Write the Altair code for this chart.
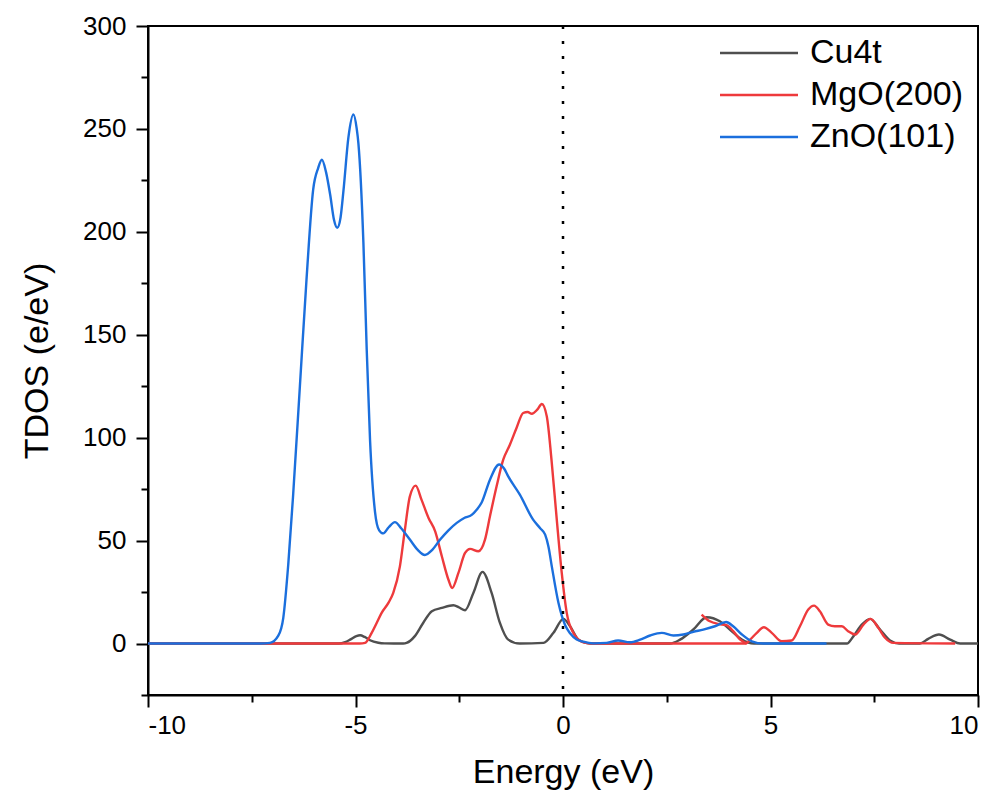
import altair as alt
import pandas as pd

# ---- data ----
cu4t_x = [-10, -5.4, -5.25, -5.13, -4.98, -4.89, -4.78, -4.65, -4.45, -4.3, -3.85, -3.77, -3.57, -3.37,
          -3.16, -2.92, -2.64, -2.5, -2.36, -2.16, -1.94, -1.72, -1.52, -1.32, -1.04, -0.47, -0.23,
          0.01, 0.17, 0.37, 0.65, 2.58, 2.82, 3.14, 3.46, 3.78, 4.02, 4.31, 4.6, 6.84, 7.0, 7.2,
          7.4, 7.64, 7.88, 8.1, 8.6, 8.8, 9.06, 9.33, 9.57, 10]
cu4t_y = [0, 0, 0.7, 1.9, 3.6, 4.0, 3.2, 1.6, 0.4, 0.1, 0, 0.3, 3.6, 10,
          15.7, 17.3, 18.6, 17.5, 16.2, 24.6, 34.8, 24.6, 10, 1.9, 0, 0.3, 5.2,
          12, 8.4, 1.9, 0, 0, 1.9, 6.8, 12.8, 10.8, 6.8, 1.9, 0, 0, 3.6, 9.2,
          12, 6.8, 1.5, 0, 0, 2.3, 4.4, 1.9, 0, 0]

mgo_x = [-10, -4.9, -4.77, -4.61, -4.49, -4.37, -4.2, -4.09, -3.93, -3.81, -3.69, -3.55, -3.41,
         -3.24, -3.08, -2.92, -2.76, -2.67, -2.52, -2.36, -2.24, -2.04, -1.88, -1.76, -1.6,
         -1.44, -1.28, -1.12, -0.96, -0.85, -0.75, -0.62, -0.51, -0.39, -0.27, -0.15, -0.03,
         0.09, 0.25, 0.49, 0.73, 4.4, 4.51, 4.67, 4.84, 5.03, 5.27, 5.51, 5.71, 5.91, 6.05,
         6.19, 6.39, 6.55, 6.72, 6.87, 7.04, 7.24, 7.41, 7.6, 7.76, 7.96, 9.45]
mgo_y = [0, 0, 0.3, 5.2, 10, 14.9, 20, 24.6, 37.5, 55.3, 71.5, 76.7, 69.9,
         61, 54.5, 42.4, 31, 27, 34.3, 44, 46, 44.8, 50.5, 61.8, 76.4,
         89.3, 96.6, 104.7, 112, 112.5, 111.6, 113.6, 116.4, 110.3, 87.7, 60.2, 34.3,
         14.9, 5.2, 0.6, 0, 0, 1.9, 5.2, 7.9, 5.2, 1.1, 1.5, 8.4, 16.5, 18.4,
         15.7, 9.2, 8.4, 8.4, 6.0, 4.4, 9.2, 12, 7.6, 2.8, 0.3, 0]
# second MgO piece (drawn as a separate path in the reference)
mgo2_x = [3.34, 3.54, 3.74, 3.94, 4.1, 4.27, 4.43]
mgo2_y = [14.1, 10.8, 9.5, 8.9, 6.0, 1.9, 0]

zno_x = [-10, -7.3, -7.06, -6.86, -6.74, -6.62, -6.5, -6.34, -6.18, -6.02, -5.9, -5.81, -5.71,
         -5.61, -5.52, -5.44, -5.36, -5.29, -5.17, -5.05, -4.97, -4.93, -4.81, -4.73, -4.65,
         -4.53, -4.43, -4.33, -4.2, -4.05, -3.9, -3.69, -3.5, -3.33, -3.15, -2.96, -2.76,
         -2.56, -2.38, -2.2, -2.08, -1.96, -1.76, -1.54, -1.42, -1.32, -1.04, -0.72, -0.55,
         -0.43, -0.35, -0.27, -0.11, 0.05, 0.17, 0.33, 0.49, 0.73, 1.05, 1.33, 1.61, 1.86,
         2.1, 2.38, 2.66, 2.9, 3.14, 3.38, 3.66, 3.93, 4.1, 4.31, 4.55, 4.83, 6.35]
zno_y = [0, 0, 0.3, 3.8, 12.5, 38.5, 73, 125, 177, 220.5, 231, 235, 229,
         218, 206, 202, 207, 220, 246, 257, 250, 243, 195, 143, 99,
         64, 55, 53.5, 56.5, 59, 56, 50.5, 45.5, 43, 45.5, 50.5, 55,
         58.6, 61, 62.5, 65, 68.5, 79.6, 87, 85, 81.2, 72.3, 60.2, 56,
         52.9, 47, 37.5, 19.8, 9, 5, 2, 0.9, 0.1, 0.3, 1.5, 0.6, 1.9,
         3.9, 5.2, 3.9, 4.4, 5.7, 6.8, 8.4, 10.5, 8.4, 4.4, 1.1, 0, 0]

series_names = ["Cu4t", "MgO(200)", "ZnO(101)"]
series_colors = ["#4f4f4f", "#ee3a3c", "#1b6fdd"]

rows = []
for name, seg, xs, ys in [("Cu4t", "a", cu4t_x, cu4t_y),
                          ("MgO(200)", "a", mgo_x, mgo_y),
                          ("MgO(200)", "b", mgo2_x, mgo2_y),
                          ("ZnO(101)", "a", zno_x, zno_y)]:
    for i, (xv, yv) in enumerate(zip(xs, ys)):
        rows.append({"series": name, "seg": name + seg, "E": xv, "dos": yv, "i": i})
df = pd.DataFrame(rows)

FONT = "Liberation Sans"

x_scale = alt.Scale(domain=[-10, 10], nice=False, zero=False)
y_scale = alt.Scale(domain=[-25, 300], nice=False, zero=False)

x_axis = alt.Axis(
    values=[-10, -7.5, -5, -2.5, 0, 2.5, 5, 7.5, 10],
    labelExpr="datum.value % 5 === 0 ? '' + datum.value : ''",
    tickSize={"condition": {"test": "datum.value % 5 === 0", "value": 12}, "value": 7},
    title="Energy (eV)", titlePadding=17, labelPadding=5,
)
y_axis = alt.Axis(
    values=list(range(-25, 301, 25)),
    labelExpr="datum.value % 50 === 0 ? '' + datum.value : ''",
    tickSize={"condition": {"test": "datum.value % 50 === 0", "value": 12}, "value": 7},
    title="TDOS (e/eV)", titlePadding=28, labelPadding=10,
)

# legend line: custom path spanning 78 px at symbolSize 100 (scale = sqrt(size)/2 = 5)
lines = alt.Chart(df).mark_line(interpolate="monotone", strokeWidth=2.4).encode(
    x=alt.X("E:Q", scale=x_scale, axis=x_axis),
    y=alt.Y("dos:Q", scale=y_scale, axis=y_axis),
    color=alt.Color("series:N", scale=alt.Scale(domain=series_names, range=series_colors),
                    sort=series_names,
                    legend=alt.Legend(title=None, orient="none", legendX=594, legendY=10,
                                      symbolType="M-7.8,0H7.8", symbolSize=100,
                                      symbolStrokeWidth=2.5, labelFontSize=34,
                                      labelFont=FONT, labelOffset=34, rowPadding=8,
                                      padding=0, labelColor="black")),
    detail="seg:N",
    order="i:Q",
)

zero_line = alt.Chart(pd.DataFrame({"E": [0]})).mark_rule(
    color="black", strokeWidth=2.5, strokeDash=[3, 12]
).encode(x=alt.X("E:Q", scale=x_scale), y=alt.datum(300), y2=alt.datum(-25))

chart = alt.layer(lines, zero_line).properties(
    width=830, height=669,
    autosize=alt.AutoSizeParams(type="none"),
    padding={"left": 140, "top": 18, "right": 11, "bottom": 100},
).configure_view(stroke="black", strokeWidth=2).configure_axis(
    domainColor="black", domainWidth=2, tickColor="black", tickWidth=2,
    labelFont=FONT, labelFontSize=26, labelColor="black",
    titleFont=FONT, titleFontSize=34, titleColor="black", titleFontWeight="normal",
    grid=False,
)

chart.save("out.html", embed_options={"renderer": "svg", "actions": False})
